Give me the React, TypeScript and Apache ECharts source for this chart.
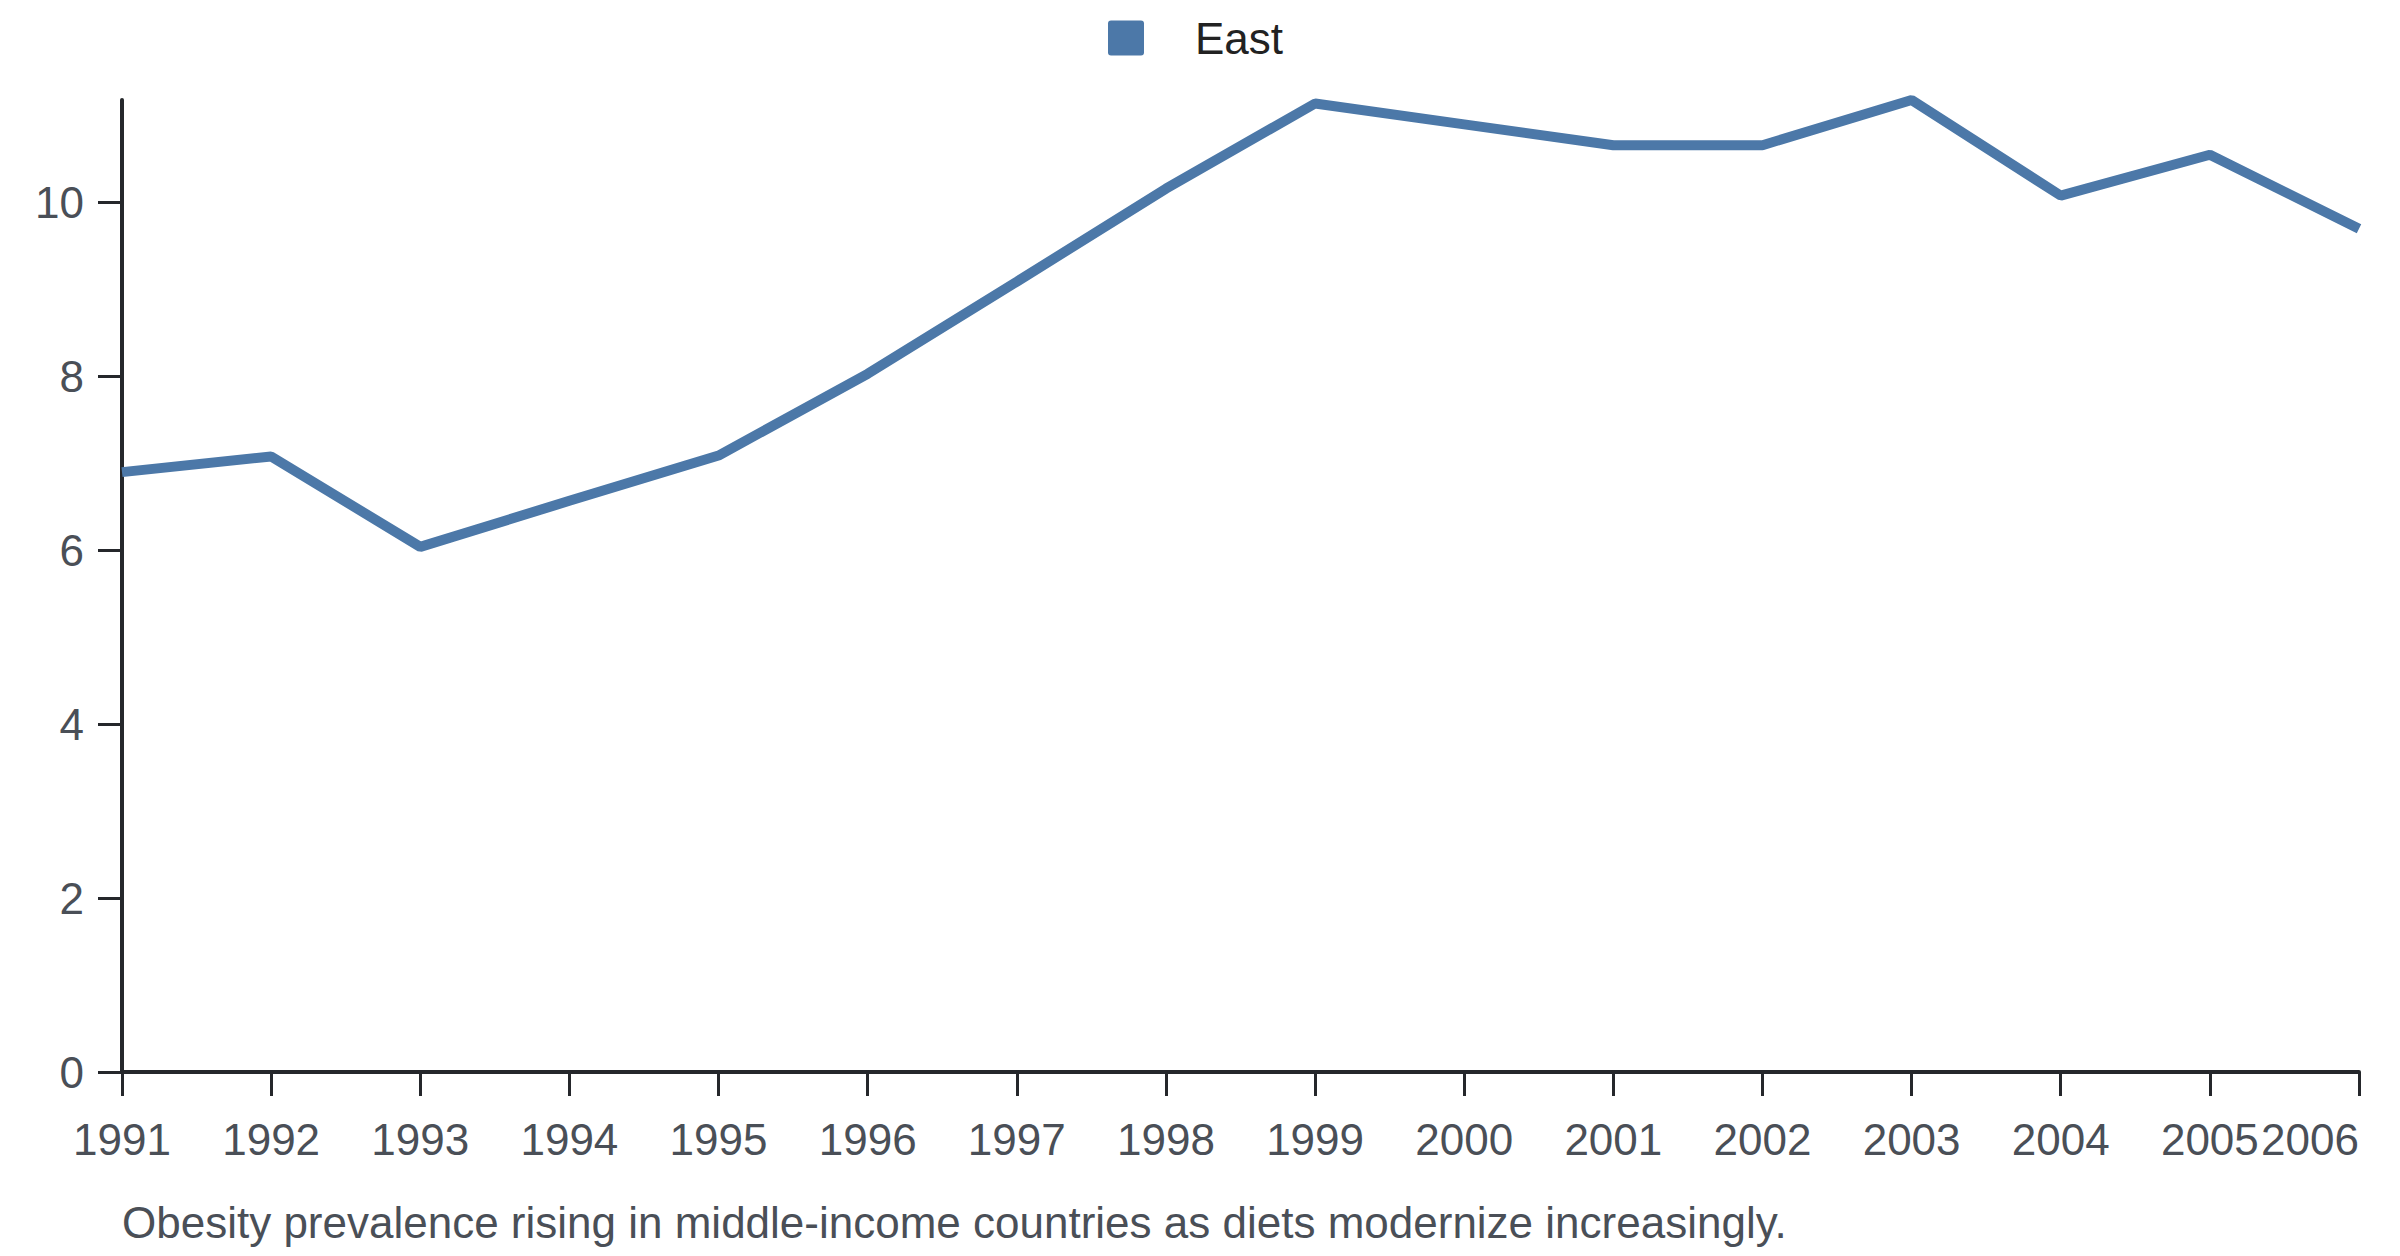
import React, { useEffect, useRef } from "react";
import * as echarts from "echarts";

const years = ["1991","1992","1993","1994","1995","1996","1997","1998","1999","2000","2001","2002","2003","2004","2005","2006"];
const eastValues = [6.9, 7.08, 6.04, 6.57, 7.09, 8.03, 9.09, 10.16, 11.14, 10.9, 10.66, 10.66, 11.18, 10.08, 10.55, 9.7];
const seriesName = "East";
const caption = "Obesity prevalence rising in middle-income countries as diets modernize increasingly.";

const FONT = "'Liberation Sans', Arial, Helvetica, sans-serif";
const LEGEND_ICON = "path://M3,0H33Q36,0 36,3V32Q36,35 33,35H3Q0,35 0,32V3Q0,0 3,0Z";

export default function App() {
  const ref = useRef<HTMLDivElement>(null);
  useEffect(() => {
    if (!ref.current) return;
    const chart = echarts.init(ref.current, undefined, { renderer: "svg" });
    chart.setOption({
      animation: false,
      backgroundColor: "#ffffff",
      textStyle: { fontFamily: FONT },
      legend: {
        show: true,
        left: 1108,
        top: 16,
        padding: 0,
        itemWidth: 36,
        itemHeight: 35,
        icon: LEGEND_ICON,
        data: [seriesName],
        textStyle: { fontSize: 44, color: "#222222", fontFamily: FONT, padding: [0, 0, 0, 46] },
      },
      grid: { left: 122, right: 41, top: 100, bottom: 184, containLabel: false },
      xAxis: {
        type: "category",
        data: years,
        boundaryGap: false,
        axisLine: { show: true, lineStyle: { color: "#25272b", width: 4 } },
        axisTick: { show: true, length: 24, lineStyle: { color: "#25272b", width: 3 }, alignWithLabel: true },
        axisLabel: {
          interval: 0,
          fontSize: 44,
          color: "#4a4f57",
          fontFamily: FONT,
          margin: 45,
          alignMaxLabel: "right",
        },
        splitLine: { show: false },
      },
      yAxis: {
        type: "value",
        min: 0,
        max: "dataMax",
        interval: 2,
        axisLine: { show: true, lineStyle: { color: "#25272b", width: 4 } },
        axisTick: { show: true, length: 24, lineStyle: { color: "#25272b", width: 3 } },
        axisLabel: { fontSize: 44, color: "#4a4f57", fontFamily: FONT, margin: 38, showMaxLabel: false },
        splitLine: { show: false },
      },
      series: [
        {
          name: seriesName,
          type: "line",
          data: eastValues,
          showSymbol: false,
          symbol: "none",
          itemStyle: { color: "#4c78a8" },
          lineStyle: { color: "#4c78a8", width: 10 },
        },
      ],
      graphic: [
        {
          type: "text",
          left: 122,
          top: 1200,
          style: { text: caption, fontSize: 44, fill: "#4a4f57", fontFamily: FONT },
        },
      ],
    });
    return () => chart.dispose();
  }, []);
  return <div ref={ref} style={{ position: "fixed", left: 0, top: 0, width: 2400, height: 1256 }} />;
}
